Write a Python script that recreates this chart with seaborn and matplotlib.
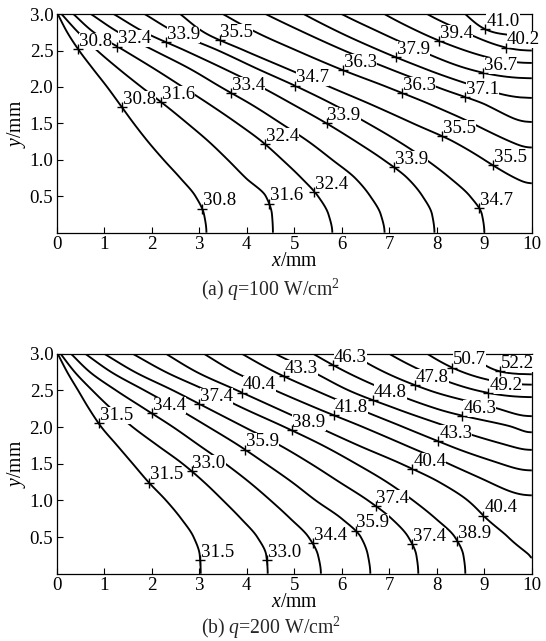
import numpy as np
import matplotlib
matplotlib.use("Agg")
import matplotlib.pyplot as plt
import seaborn as sns

nan = np.nan

# ---------------- data ----------------
# heights (mm) of the horizontal rows along which isotherm crossings were read
row_y = [0.0, 0.25, 0.5, 0.75, 1.0, 1.25, 1.5, 1.75, 2.0, 2.25, 2.5, 2.75, 3.0]
inlet_T = 30.0          # temperature along x = 0
wall_start_T = 30.5     # top-left corner value

# panel (a) q = 100 W/cm2 : contour levels and x-position where each level crosses each row
levels_a = [30.79, 31.57, 32.36, 33.14, 33.93, 34.71, 35.50, 36.28, 37.07, 37.85,
            38.64, 39.42, 40.21, 40.99]
cross_a = [
    [3.15, 3.10, 2.92, 2.60, 2.25, 1.92, 1.62, 1.34, 1.06, 0.76, 0.47, 0.22, 0.02],
    [4.55, 4.53, 4.40, 3.98, 3.60, 3.20, 2.75, 2.28, 1.78, 1.30, 0.85, 0.45, 0.10],
    [5.80, 5.72, 5.50, 5.15, 4.75, 4.32, 3.80, 3.24, 2.65, 2.05, 1.42, 0.78, 0.35],
    [6.90, 6.82, 6.60, 6.28, 5.80, 5.30, 4.72, 4.12, 3.45, 2.80, 2.05, 1.30, 0.72],
    [7.95, 7.90, 7.70, 7.38, 6.88, 6.30, 5.68, 5.00, 4.30, 3.52, 2.70, 1.85, 1.20],
    [9.00, 8.95, 8.70, 8.28, 7.78, 7.20, 6.55, 5.85, 5.07, 4.22, 3.40, 2.50, 1.85],
    [nan, nan, nan, 9.65, 9.00, 8.35, 7.50, 6.65, 5.75, 4.85, 3.95, 3.10, 2.60],
    [nan, nan, nan, nan, nan, 9.55, 8.75, 7.90, 6.95, 5.95, 5.05, 4.20, 3.50],
    [nan, nan, nan, nan, nan, nan, nan, 9.05, 8.00, 7.00, 6.05, 5.20, 4.40],
    [nan, nan, nan, nan, nan, nan, nan, nan, 8.85, 7.75, 6.80, 5.95, 5.20],
    [nan, nan, nan, nan, nan, nan, nan, nan, nan, 8.65, 7.65, 6.80, 6.00],
    [nan, nan, nan, nan, nan, nan, nan, nan, nan, nan, 8.60, 7.65, 6.90],
    [nan, nan, nan, nan, nan, nan, nan, nan, nan, nan, nan, 8.60, 7.80],
    [nan, nan, nan, nan, nan, nan, nan, nan, nan, nan, nan, 9.20, 8.60],
]
# heights where levels meet the right edge x = 10, with the temperature there
edge_y_a = [0.0, 0.68, 1.17, 1.52, 1.85, 2.12, 2.33, 2.50, 2.70, 3.0]
edge_T_a = [35.2, 35.50, 36.28, 37.07, 37.85, 38.64, 39.42, 40.21, 40.99, 41.7]
label_text_a = ["30.8", "32.4", "33.9", "35.5", "30.8", "31.6", "33.4", "34.7", "36.3",
                "37.9", "39.4", "41.0", "40.2", "36.7", "36.3", "37.1", "33.9", "35.5",
                "32.4", "33.9", "35.5", "30.8", "31.6", "32.4", "34.7"]
label_level_a = [0, 2, 4, 6, 0, 1, 3, 5, 7, 9, 11, 13, 12, 10, 7, 8, 4, 6, 2, 4, 6, 0, 1, 2, 5]

# panel (b) q = 200 W/cm2
levels_b = [31.48, 32.96, 34.44, 35.91, 37.39, 38.87, 40.35, 41.83, 43.31, 44.79,
            46.26, 47.74, 49.22, 50.70, 52.18]
cross_b = [
    [3.03, 3.01, 2.88, 2.62, 2.30, 1.93, 1.60, 1.27, 0.94, 0.68, 0.45, 0.22, 0.02],
    [4.44, 4.41, 4.22, 3.88, 3.50, 3.10, 2.65, 2.12, 1.60, 1.15, 0.75, 0.38, 0.08],
    [5.56, 5.50, 5.30, 4.92, 4.50, 4.05, 3.55, 3.00, 2.45, 1.85, 1.25, 0.70, 0.30],
    [6.60, 6.55, 6.40, 6.00, 5.45, 4.95, 4.40, 3.83, 3.20, 2.55, 1.85, 1.15, 0.60],
    [7.61, 7.57, 7.40, 7.05, 6.55, 5.95, 5.35, 4.70, 3.95, 3.20, 2.45, 1.65, 1.00],
    [8.60, 8.56, 8.38, 7.98, 7.50, 6.95, 6.30, 5.60, 4.80, 3.95, 3.15, 2.30, 1.60],
    [nan, 9.95, 9.50, 9.05, 8.65, 8.05, 7.25, 6.35, 5.50, 4.65, 3.80, 2.95, 2.30],
    [nan, nan, nan, nan, nan, 9.10, 8.25, 7.35, 6.45, 5.50, 4.60, 3.75, 3.10],
    [nan, nan, nan, nan, nan, nan, 9.35, 8.25, 7.30, 6.35, 5.45, 4.60, 3.90],
    [nan, nan, nan, nan, nan, nan, nan, 9.50, 8.25, 7.15, 6.15, 5.40, 4.60],
    [nan, nan, nan, nan, nan, nan, nan, nan, 9.60, 8.00, 6.95, 6.10, 5.40],
    [nan, nan, nan, nan, nan, nan, nan, nan, nan, 9.30, 7.85, 6.90, 6.20],
    [nan, nan, nan, nan, nan, nan, nan, nan, nan, nan, 8.85, 7.75, 7.00],
    [nan, nan, nan, nan, nan, nan, nan, nan, nan, nan, nan, 8.55, 7.80],
    [nan, nan, nan, nan, nan, nan, nan, nan, nan, nan, nan, 9.40, 8.70],
]
edge_y_b = [0.0, 0.22, 1.07, 1.41, 1.69, 1.93, 2.15, 2.41, 2.58, 2.72, 3.0]
edge_T_b = [40.2, 40.35, 41.83, 43.31, 44.79, 46.26, 47.74, 49.22, 50.70, 52.18, 53.5]
label_text_b = ["31.5", "34.4", "37.4", "40.4", "43.3", "46.3", "47.8", "50.7", "52.2",
                "49.2", "44.8", "41.8", "38.9", "46.3", "43.3", "35.9", "40.4", "31.5",
                "33.0", "37.4", "35.9", "40.4", "34.4", "37.4", "38.9", "31.5", "33.0"]
label_level_b = [0, 2, 4, 6, 8, 10, 11, 13, 14, 12, 9, 7, 5, 10, 8, 3, 6, 0, 1, 4, 3, 6,
                 2, 4, 5, 0, 1]

x_ticks = [0, 1, 2, 3, 4, 5, 6, 7, 8, 9, 10]
y_ticks = [0.5, 1.0, 1.5, 2.0, 2.5, 3.0]
y_tick_labels = ["0.5", "1.0", "1.5", "2.0", "2.5", "3.0"]

# approximate places of the "+" label anchors (layout only; snapped onto the lines)
anchor_a = [(0.45, 2.52), (1.29, 2.57), (2.31, 2.62), (3.43, 2.64), (1.36, 1.72),
            (2.19, 1.79), (3.64, 1.90), (5.01, 2.02), (6.03, 2.23), (7.15, 2.40),
            (8.06, 2.64), (9.05, 2.83), (9.45, 2.52), (8.97, 2.20), (7.26, 1.91),
            (8.58, 1.84), (5.68, 1.50), (8.13, 1.34), (4.38, 1.22), (7.12, 0.91),
            (9.18, 0.92), (3.05, 0.33), (4.48, 0.40), (5.43, 0.56), (8.91, 0.35)]
anchor_b = [(0.88, 2.05), (2.00, 2.19), (3.00, 2.33), (3.90, 2.47), (4.76, 2.66),
            (5.78, 2.80), (7.54, 2.57), (8.31, 2.80), (9.33, 2.77), (9.08, 2.45),
            (6.66, 2.37), (5.85, 2.17), (4.94, 1.95), (8.55, 2.17), (8.03, 1.80),
            (3.96, 1.69), (7.50, 1.44), (1.94, 1.24), (2.84, 1.40), (6.72, 0.93),
            (6.30, 0.59), (8.98, 0.79), (5.40, 0.42), (7.49, 0.40), (8.44, 0.45),
            (3.02, 0.19), (4.42, 0.19)]


# ---------------- helpers ----------------
def pchip(xk, yk, x, left_slope=None, right_slope=None):
    xk = np.asarray(xk, float)
    yk = np.asarray(yk, float)
    h = np.diff(xk)
    d = np.diff(yk) / h
    n = len(xk)
    m = np.zeros(n)
    for i in range(1, n - 1):
        if d[i - 1] * d[i] > 0:
            w1 = 2 * h[i] + h[i - 1]
            w2 = h[i] + 2 * h[i - 1]
            m[i] = (w1 + w2) / (w1 / d[i - 1] + w2 / d[i])
    m[0] = d[0] if left_slope is None else left_slope
    m[-1] = d[-1] if right_slope is None else right_slope
    x = np.asarray(x, float)
    i = np.clip(np.searchsorted(xk, x) - 1, 0, n - 2)
    hh = xk[i + 1] - xk[i]
    t = (x - xk[i]) / hh
    h00 = 2 * t**3 - 3 * t**2 + 1
    h10 = t**3 - 2 * t**2 + t
    h01 = -2 * t**3 + 3 * t**2
    h11 = t**3 - t**2
    return h00 * yk[i] + h10 * hh * m[i] + h01 * yk[i + 1] + h11 * hh * m[i + 1]


def build_field(levels, cross, edge_y, edge_T, xf, yf):
    ry = np.asarray(row_y)
    # each isotherm as a smooth curve x_k(y)
    Xk = np.full((len(levels), len(yf)), nan)
    for k, lev in enumerate(levels):
        c = np.asarray(cross[k], float)
        ok = ~np.isnan(c)
        if ok[0]:
            Xk[k] = pchip(ry[ok], c[ok], yf, left_slope=0.0)
        else:
            yr = float(np.interp(lev, edge_T, edge_y))
            s_pts = np.concatenate([[0.0], np.sqrt(ry[ok] - yr)])
            x_pts = np.concatenate([[10.0], c[ok]])
            valid = yf > yr
            Xk[k, valid] = pchip(s_pts, x_pts, np.sqrt(yf[valid] - yr))
    T = np.empty((len(yf), len(xf)))
    for i, y in enumerate(yf):
        xs = [0.0]
        ts = [inlet_T if y < 2.999 else wall_start_T]
        for k, lev in enumerate(levels):
            xc = Xk[k, i]
            if np.isfinite(xc) and xs[-1] < xc < 9.999:
                xs.append(xc)
                ts.append(lev)
        xs.append(10.0)
        ts.append(max(float(np.interp(y, edge_y, edge_T)), ts[-1] + 1e-3))
        T[i] = pchip(xs, ts, xf, right_slope=0.0)
    return T


# ---------------- style ----------------
sns.set_theme(style="white")
plt.rcParams["font.family"] = ["Liberation Serif", "DejaVu Serif"]
plt.rcParams["mathtext.fontset"] = "custom"
plt.rcParams["mathtext.rm"] = "Liberation Serif"
plt.rcParams["mathtext.it"] = "Liberation Serif:italic"
plt.rcParams["axes.edgecolor"] = "black"
plt.rcParams["axes.linewidth"] = 0.9
FS = 13.6      # tick labels, contour labels
FS_CAP = 14.2  # axis titles and captions

fig = plt.figure(figsize=(5.46, 6.41), dpi=100)
ax_a = fig.add_axes([0.104, 0.637, 0.870, 0.341])
ax_b = fig.add_axes([0.104, 0.105, 0.870, 0.343])

xf = np.linspace(0, 10, 801)
yf = np.linspace(0, 3, 481)
Xf, Yf = np.meshgrid(xf, yf)


def draw_panel(ax, levels, cross, edge_y, edge_T, texts, lev_idx, anchors, caption, cap_y):
    T = build_field(levels, cross, edge_y, edge_T, xf, yf)
    cs = ax.contour(Xf, Yf, T, levels=levels, colors="black", linewidths=1.35)
    paths = cs.get_paths()
    px, py = [], []
    for txt, li, (ax0, ay0) in zip(texts, lev_idx, anchors):
        v = paths[li].vertices
        dd = ((v[:, 0] - ax0) / 10.0) ** 2 + ((v[:, 1] - ay0) / 3.0 * 0.46) ** 2
        j = int(np.argmin(dd))
        x0, y0 = v[j]
        px.append(x0)
        py.append(y0)
        ax.annotate(txt, (x0, y0), xytext=(0.6, -0.6), textcoords="offset points",
                    ha="left", va="bottom", fontsize=FS, color="black", zorder=5,
                    bbox=dict(boxstyle="square,pad=0.0", fc="white", ec="none"))
    sns.scatterplot(x=px, y=py, marker="+", s=50, color="black", linewidth=1.0,
                    ax=ax, zorder=7, legend=False)
    ax.set_xlim(0, 10)
    ax.set_ylim(0, 3)
    ax.set_xticks(x_ticks)
    ax.set_xticklabels([str(t) for t in x_ticks])
    ax.set_yticks(y_ticks)
    ax.set_yticklabels(y_tick_labels)
    ax.tick_params(direction="in", length=4, width=0.8, bottom=True, left=True,
                   top=False, right=False, labelsize=FS, pad=2.5, colors="black")
    ax.set_xlabel(r"$x$/mm", fontsize=FS_CAP, labelpad=-1, color="black")
    ax.set_ylabel(r"$y$/mm", fontsize=FS_CAP, labelpad=1, color="black")
    for s in ax.spines.values():
        s.set_color("black")
        s.set_linewidth(0.9)
    fig.text(0.496, cap_y, caption, ha="center", va="center", fontsize=FS_CAP)


draw_panel(ax_a, levels_a, cross_a, edge_y_a, edge_T_a, label_text_a, label_level_a,
           anchor_a, r"(a) $q$=100 W/cm$^2$", 0.547)
draw_panel(ax_b, levels_b, cross_b, edge_y_b, edge_T_b, label_text_b, label_level_b,
           anchor_b, r"(b) $q$=200 W/cm$^2$", 0.021)

fig.savefig("out.png", dpi=100)
